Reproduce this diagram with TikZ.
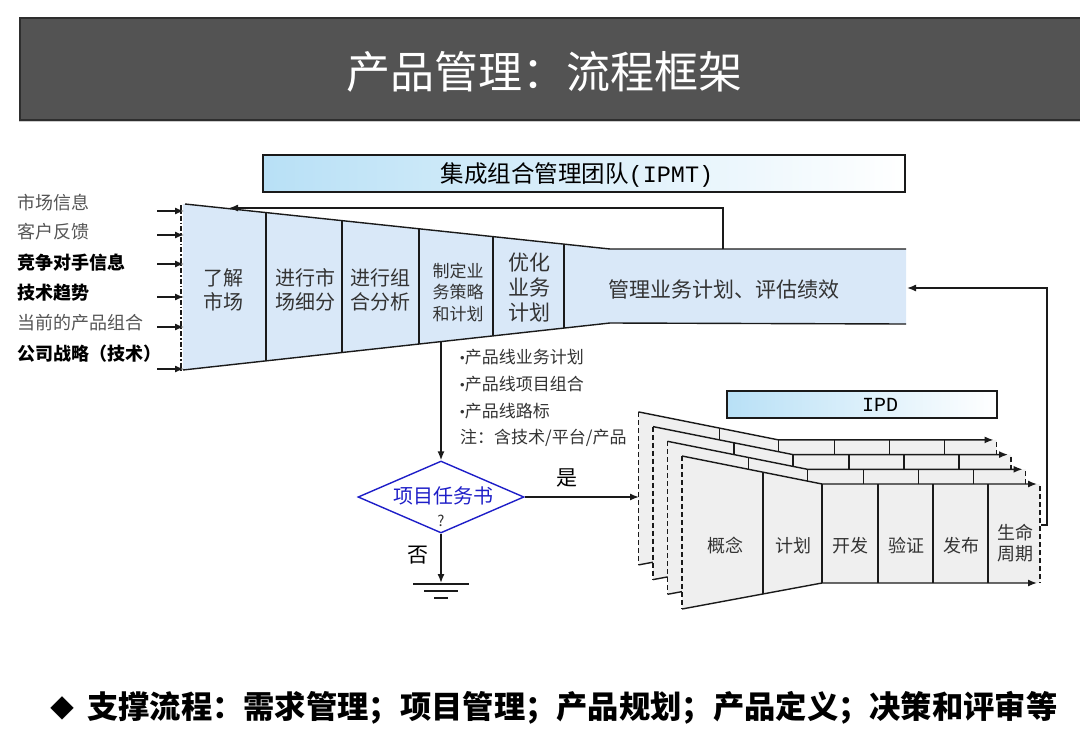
\documentclass[tikz,border=0pt]{standalone}
\usepackage{fontspec}
\setmainfont{Noto Sans CJK SC}
\newfontfamily\latinf{Liberation Sans}
\newfontfamily\monof{Liberation Mono}
\usetikzlibrary{arrows.meta,shapes.geometric,calc}
\definecolor{titlebg}{HTML}{535353}
\definecolor{titleln}{HTML}{2E2E2E}
\definecolor{funnelc}{HTML}{D9E8F8}
\definecolor{boxblue}{HTML}{B8E0F6}
\definecolor{ipdgray}{HTML}{EFEFEF}
\definecolor{txt}{HTML}{333333}
\definecolor{txtl}{HTML}{555555}
\definecolor{dblue}{HTML}{1E1EC8}
\definecolor{linec}{HTML}{1A1A1A}
\tikzset{
  ln/.style={draw=linec, line width=1.4pt},
  arr/.style={ln, -{Latex[length=9pt,width=7pt]}},
  dsh/.style={ln, dashed, dash pattern=on 5pt off 3pt},
  lbl/.style={anchor=west, inner sep=0pt, text=txtl, font=\fontsize{18}{20}\selectfont},
  lblb/.style={anchor=west, inner sep=0pt, text=black, font=\fontsize{18}{20}\selectfont\bfseries},
  coltxt/.style={align=center, inner sep=0pt, text=txt, font=\fontsize{20}{24}\selectfont},
  coltxts/.style={align=center, inner sep=0pt, text=txt, font=\fontsize{17}{21.5}\selectfont},
  ipdtxt/.style={align=center, inner sep=0pt, text=txt, font=\fontsize{18}{21}\selectfont},
  bul/.style={anchor=west, inner sep=0pt, text=txt, font=\fontsize{17}{20}\selectfont},
}
\newcommand\bulmark{{\latinf\fontsize{13}{13}\selectfont\raisebox{1pt}{•}}}
\begin{document}
\begin{tikzpicture}[x=1pt,y=-1pt]
\useasboundingbox (0,0) rectangle (1080,729);

% ---------- title bar ----------
\draw[draw=gray!40, line width=1pt] (19,17) rectangle (1095,121);
\draw[fill=titlebg, draw=titleln, line width=1.5pt] (20,18) rectangle (1095,120);
\node[text=white, font=\fontsize{44}{44}\selectfont] (title) at (544,72) {产品管理：流程框架};

% ---------- IPMT box ----------
\node[draw=linec, line width=1.4pt, left color=boxblue, right color=white,
      minimum width=642pt, minimum height=37pt, inner sep=0pt] (ipmt) at (584,173.5) {};
\node[text=black, font=\fontsize{23.5}{23.5}\selectfont] (ipmtt) at (577,175) {集成组合管理团队{\monof (IPMT)}};

% ---------- funnel ----------
\fill[funnelc] (183,204) -- (610,249) -- (906,249) -- (906,324) -- (610,323) -- (183,370) -- cycle;
\draw[ln] (185,204) -- (610,249) -- (906,249);
\draw[ln] (183,370) -- (610,323) -- (906,324);
\draw[ln, dash pattern=on 5pt off 2pt on 1.5pt off 2pt, line width=1.2pt] (181,205) -- (181,370);
\draw[ln] (266,212.6) -- (266,361);
\draw[ln] (342,220.6) -- (342,352.6);
\draw[ln] (419,228.8) -- (419,344.1);
\draw[ln] (493,236.6) -- (493,335.9);
\draw[ln] (564,244.1) -- (564,328.1);

\node[coltxt] (c1) at (223,290) {了解\\市场};
\node[coltxt] (c2) at (305,290) {进行市\\场细分};
\node[coltxt] (c3) at (380,290) {进行组\\合分析};
\node[coltxts] (c4) at (458,292) {制定业\\务策略\\和计划};
\node[coltxt, font=\fontsize{21}{25}\selectfont] (c5) at (529,288) {优化\\业务\\计划};
\node[coltxt, font=\fontsize{21}{24}\selectfont] (c6) at (724,290) {管理业务计划、评估绩效};

% ---------- left inputs ----------
\node[lbl]  (in1) at (17,203) {市场信息};
\node[lbl]  (in2) at (17,232) {客户反馈};
\node[lblb] (in3) at (17,263) {竞争对手信息};
\node[lblb] (in4) at (17,293) {技术趋势};
\node[lbl]  (in5) at (17,323) {当前的产品组合};
\node[lblb] (in6) at (17,354) {公司战略（技术）};
\foreach \i/\y in {1/211,2/235,3/264,4/297,5/327,6/369}{
  \coordinate (s\i) at (157,\y);
  \coordinate (t\i) at (184,\y);
  \draw[arr] (s\i) -- (t\i);
}

% ---------- top feedback ----------
\coordinate (fbA) at (723,249);
\coordinate (fbB) at (229,208);
\draw[arr] (fbA) -- (723,208) -- (fbB);

% ---------- IPD stack ----------
\foreach \k in {3,2,1,0}{
\begin{scope}[shift={(-14.5*\k,-14.7*\k)}]
  \fill[ipdgray] (682,456) -- (822,484) -- (1040,484) -- (1040,583) -- (822,583) -- (682,609) -- cycle;
  \draw[ln] (763,472.2) -- (763,594);
  \foreach \xx in {822,878,933,988}{\draw[ln] (\xx,484) -- (\xx,583);}
  \draw[arr] (682,456) -- (822,484) -- (1037,484);
  \draw[arr] (682,609) -- (822,583) -- (1037,583);
  \draw[dsh] (682,456) -- (682,609);
  \draw[dsh] (1040,486) -- (1040,583);
\end{scope}
}
\node[ipdtxt] (p1) at (725,546) {概念};
\node[ipdtxt] (p2) at (793,546) {计划};
\node[ipdtxt] (p3) at (850,546) {开发};
\node[ipdtxt] (p4) at (906,546) {验证};
\node[ipdtxt] (p5) at (961,546) {发布};
\node[ipdtxt] (p6) at (1015,543) {生命\\周期};

% IPD box
\node[draw=linec, line width=1.4pt, left color=boxblue, right color=white,
      minimum width=270pt, minimum height=27pt, inner sep=0pt] (ipd) at (862,404.5) {};
\node[text=black, font=\monof\fontsize{20}{20}\selectfont] (ipdt) at (880,405) {IPD};

% ---------- right feedback ----------
\coordinate (ipdout) at (1041,525);
\coordinate (mgmtR) at (907,288);
\draw[arr] (ipdout) -- (1047,525) -- (1047,288) -- (mgmtR);

% ---------- decision ----------
\node[bul] (b1) at (460,357) {\bulmark 产品线业务计划};
\node[bul] (b2) at (460,384) {\bulmark 产品线项目组合};
\node[bul] (b3) at (460,411) {\bulmark 产品线路标};
\node[bul] (b4) at (460,438) {注：含技术/平台/产品};

\node[diamond, draw=dblue, line width=1.4pt, fill=white, minimum width=166pt, minimum height=72pt, inner sep=0pt] (dec) at (441,497) {};
\node[text=dblue, font=\fontsize{20}{20}\selectfont] (dect) at (443,496) {项目任务书};
\node[text=txt, font=\fontsize{15}{15}\selectfont] (decq) at (441,521) {?};
\coordinate (fnB) at (441,342);
\draw[arr] (fnB) -- (dec.north);
\coordinate (ipdin) at (639,497);
\draw[arr] (dec.east) -- (ipdin);
\node[text=black, font=\fontsize{21}{21}\selectfont] (yes) at (567,478) {是};
\coordinate (gnd) at (441,583);
\draw[arr] (dec.south) -- (gnd);
\node[text=black, font=\fontsize{21}{21}\selectfont] (no) at (418,555) {否};
\draw[ln] (413,584) -- (469,584);
\draw[ln] (424,591) -- (458,591);
\draw[ln] (434,598) -- (448,598);

% ---------- bottom ----------
\node[text=black, font=\fontsize{24}{24}\selectfont] (dia) at (62,708) {◆};
\node[anchor=west, inner sep=0pt, text=black, font=\fontsize{31.3}{31.3}\selectfont\bfseries] (bottom) at (87,708) {支撑流程：需求管理；项目管理；产品规划；产品定义；决策和评审等};
\end{tikzpicture}
\end{document}
